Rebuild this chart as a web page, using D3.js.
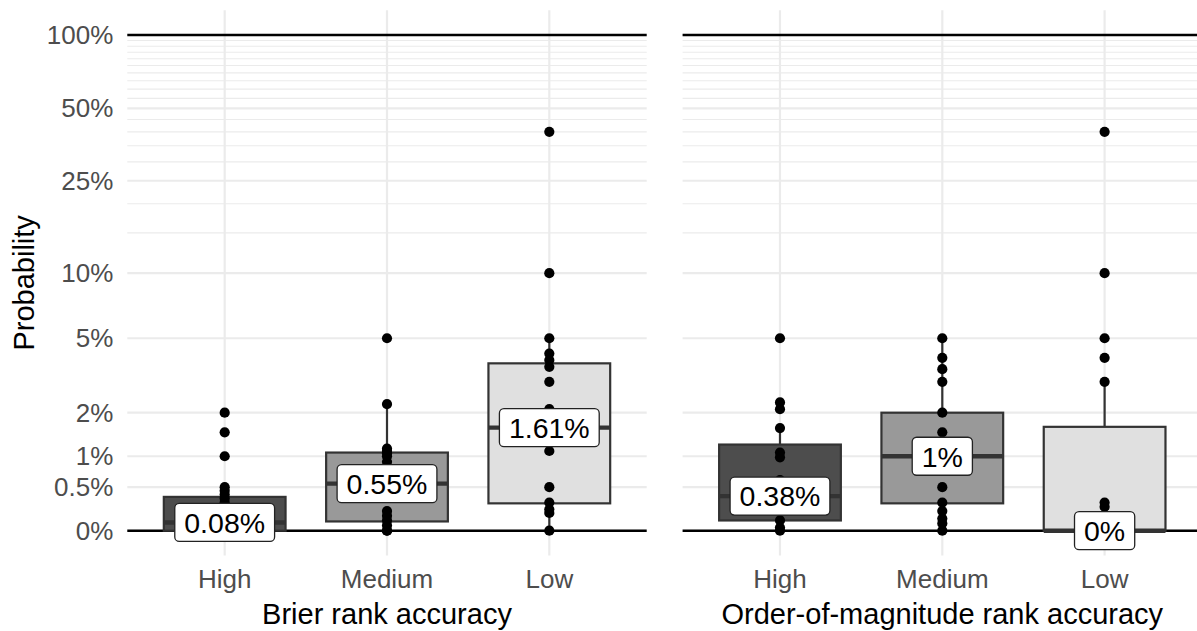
<!DOCTYPE html>
<html>
<head>
<meta charset="utf-8">
<script src="https://cdn.jsdelivr.net/npm/d3@7"></script>
<style>
  html, body { margin: 0; padding: 0; background: #ffffff; }
  svg { display: block; font-family: "Liberation Sans", Arial, Helvetica, sans-serif; }
</style>
</head>
<body>
<svg id="chart" width="1197" height="631"></svg>
<script>
// ---------------- data ----------------
const categories = ["High", "Medium", "Low"];
const panelTitles = ["Brier rank accuracy", "Order-of-magnitude rank accuracy"];
const yTickValues = [0, 0.005, 0.01, 0.02, 0.05, 0.10, 0.25, 0.50, 1];
const yTickLabels = ["0%", "0.5%", "1%", "2%", "5%", "10%", "25%", "50%", "100%"];
const yMinorValues = [0.15, 0.20, 0.30, 0.35, 0.40, 0.45, 0.55, 0.60, 0.65, 0.70, 0.75, 0.80, 0.85, 0.90, 0.95];
const refLines = [0, 1];
const fillColors = ["#4d4d4d", "#999999", "#e0e0e0"];

// individual probabilities (points)
const brierHigh   = [0.02, 0.015, 0.01, 0.005, 0.0045, 0.004, 0.0035, 0.003, 0.002, 0.001, 0.0008, 0.0005, 0.0002, 0, 0, 0];
const brierMedium = [0.05, 0.0225, 0.0115, 0.011, 0.0105, 0.01, 0.009, 0.007, 0.0055, 0.004, 0.002, 0.0015, 0.001, 0.0005, 0, 0];
const brierLow    = [0.40, 0.10, 0.05, 0.042, 0.039, 0.036, 0.03, 0.021, 0.011, 0.005, 0.003, 0.0022, 0.0018, 0];
const oomHigh     = [0.05, 0.023, 0.021, 0.016, 0.0107, 0.0098, 0.006, 0.004, 0.0025, 0.001, 0.0003, 0];
const oomMedium   = [0.05, 0.04, 0.035, 0.03, 0.02, 0.015, 0.012, 0.01, 0.008, 0.005, 0.003, 0.002, 0.0012, 0.0007, 0];
const oomLow      = [0.40, 0.10, 0.05, 0.04, 0.03, 0.003, 0.0025, 0, 0, 0, 0, 0, 0, 0, 0];

// box statistics: [lower whisker, q1, median, q3, upper whisker]
const brierBoxHigh   = [0, 0, 0.0008, 0.0037, 0.005];
const brierBoxMedium = [0, 0.0009, 0.0055, 0.0107, 0.0225];
const brierBoxLow    = [0, 0.0029, 0.0161, 0.0375, 0.05];
const oomBoxHigh     = [0, 0.001, 0.0038, 0.0123, 0.016];
const oomBoxMedium   = [0, 0.0029, 0.01, 0.02, 0.05];
const oomBoxLow      = [0, 0, 0, 0.0163, 0.03];

const panels = [
  { title: panelTitles[0], left: 127.3, points: [brierHigh, brierMedium, brierLow], boxes: [brierBoxHigh, brierBoxMedium, brierBoxLow] },
  { title: panelTitles[1], left: 682.6, points: [oomHigh, oomMedium, oomLow], boxes: [oomBoxHigh, oomBoxMedium, oomBoxLow] }
];

// ---------------- layout ----------------
const panelW = 519.4;
const panelTop = 10.2, panelBottom = 555.5;
const svg = d3.select("#chart");
svg.append("rect").attr("width", 1197).attr("height", 631).attr("fill", "#fff");

// y: log10(p + 0.01) transform
const yLog = d3.scaleLog().domain([0.01, 1.01]).range([530.7, 35]);
const Y = p => yLog(p + 0.01);

const fmtPct = m => (+(m * 100).toFixed(2)) + "%";

panels.forEach((panel, pi) => {
  const g = svg.append("g").attr("transform", `translate(${panel.left},0)`);
  const x = d3.scaleBand().domain(categories).range([0, panelW]).paddingInner(0).paddingOuter(0.1);
  const step = x.step();
  const cx = c => x(c) + x.bandwidth() / 2;
  const boxW = step * 0.75;

  // minor grid
  g.selectAll(".ymin").data(yMinorValues).join("line")
    .attr("x1", 0).attr("x2", panelW)
    .attr("y1", d => Y(d)).attr("y2", d => Y(d))
    .attr("stroke", "#ebebeb").attr("stroke-width", 1.1);
  // major grid
  g.selectAll(".ymaj").data(yTickValues).join("line")
    .attr("x1", 0).attr("x2", panelW)
    .attr("y1", d => Y(d)).attr("y2", d => Y(d))
    .attr("stroke", "#ebebeb").attr("stroke-width", 2.2);
  g.selectAll(".xmaj").data(categories).join("line")
    .attr("x1", d => cx(d)).attr("x2", d => cx(d))
    .attr("y1", panelTop).attr("y2", panelBottom)
    .attr("stroke", "#ebebeb").attr("stroke-width", 2.2);

  // reference lines at 0 and 1
  g.selectAll(".ref").data(refLines).join("line")
    .attr("x1", 0).attr("x2", panelW)
    .attr("y1", d => Y(d)).attr("y2", d => Y(d))
    .attr("stroke", "#000").attr("stroke-width", 2.5);

  // boxplots
  categories.forEach((c, i) => {
    const [lo, q1, med, q3, hi] = panel.boxes[i];
    const xc = cx(c);
    const bg = g.append("g");
    bg.append("line").attr("x1", xc).attr("x2", xc).attr("y1", Y(q3)).attr("y2", Y(hi))
      .attr("stroke", "#333").attr("stroke-width", 2.2);
    bg.append("line").attr("x1", xc).attr("x2", xc).attr("y1", Y(q1)).attr("y2", Y(lo))
      .attr("stroke", "#333").attr("stroke-width", 2.2);
    bg.append("rect").attr("x", xc - boxW / 2).attr("width", boxW)
      .attr("y", Y(q3)).attr("height", Math.max(0, Y(q1) - Y(q3)))
      .attr("fill", fillColors[i]).attr("stroke", "#333").attr("stroke-width", 2.2);
    bg.append("line").attr("x1", xc - boxW / 2).attr("x2", xc + boxW / 2)
      .attr("y1", Y(med)).attr("y2", Y(med))
      .attr("stroke", "#333").attr("stroke-width", 4.4);
  });

  // points
  categories.forEach((c, i) => {
    g.selectAll(null).data(panel.points[i]).join("circle")
      .attr("cx", cx(c)).attr("cy", d => Y(d)).attr("r", 5.1).attr("fill", "#000");
  });

  // median labels
  categories.forEach((c, i) => {
    const med = panel.boxes[i][2];
    const xc = cx(c), yc = Y(med);
    const lg = g.append("g");
    const rect = lg.append("rect");
    const t = lg.append("text").attr("x", xc).attr("y", yc).attr("dy", "0.36em")
      .attr("text-anchor", "middle").attr("font-size", 28.5).attr("fill", "#000")
      .text(fmtPct(med));
    const tw = t.node().getComputedTextLength();
    const w = tw + 19, h = 38;
    rect.attr("x", xc - w / 2).attr("y", yc - h / 2).attr("width", w).attr("height", h)
      .attr("rx", 4.5).attr("ry", 4.5).attr("fill", "#fff").attr("stroke", "#222").attr("stroke-width", 1.3);
  });

  // x axis
  const xa = g.append("g").attr("transform", `translate(0,${panelBottom})`)
    .call(d3.axisBottom(x).tickSize(0).tickPadding(14));
  xa.select(".domain").remove();
  xa.selectAll("text").attr("font-size", 26).attr("fill", "#4d4d4d")
    .attr("font-family", "Liberation Sans, Arial, sans-serif");

  // x title
  g.append("text").attr("x", panelW / 2).attr("y", 623.5).attr("text-anchor", "middle")
    .attr("font-size", 29).attr("fill", "#000").text(panel.title);

  // y axis only on first panel
  if (pi === 0) {
    const ya = g.append("g")
      .call(d3.axisLeft(yLog).tickValues(yTickValues.map(v => v + 0.01))
        .tickFormat((d, k) => yTickLabels[k]).tickSize(0).tickPadding(14));
    ya.select(".domain").remove();
    ya.selectAll("text").attr("font-size", 26).attr("fill", "#4d4d4d")
      .attr("font-family", "Liberation Sans, Arial, sans-serif");
  }
});

// y title
svg.append("text").attr("transform", `translate(34,${(panelTop + panelBottom) / 2}) rotate(-90)`)
  .attr("text-anchor", "middle").attr("font-size", 29).attr("fill", "#000").text("Probability");
</script>
</body>
</html>
